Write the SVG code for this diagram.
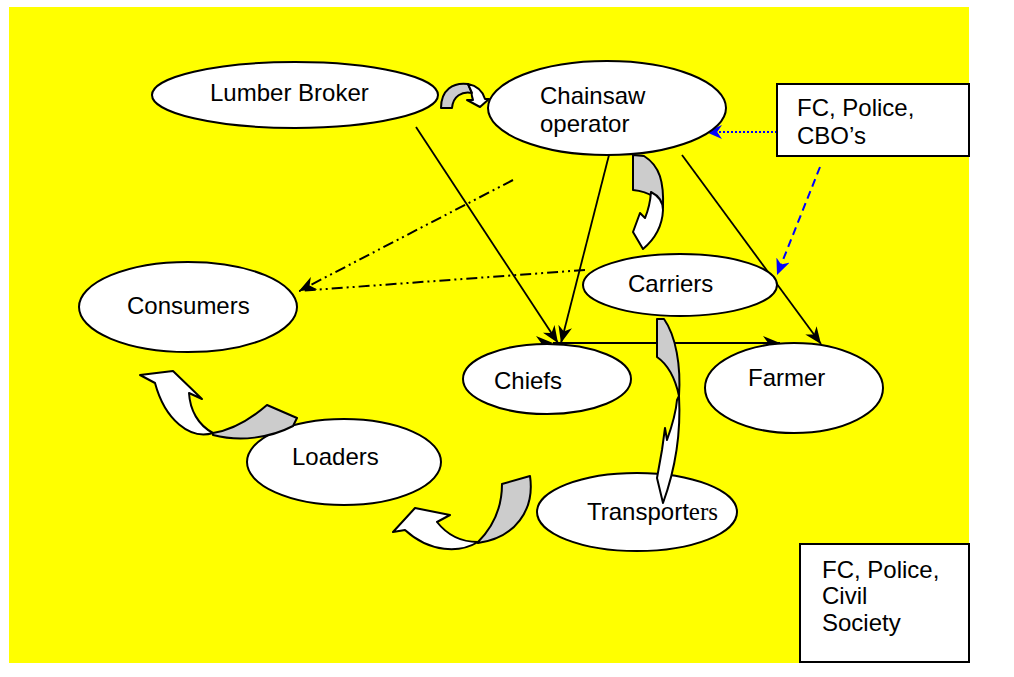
<svg xmlns="http://www.w3.org/2000/svg" width="1014" height="677" viewBox="0 0 1014 677">
<defs>
<style>
.node ellipse{fill:#fff;stroke:#000;stroke-width:2}
.box{fill:#fff;stroke:#000;stroke-width:2}
text{font-family:"Liberation Sans",Arial,sans-serif;font-size:24px;fill:#000}
.ln{stroke:#000;stroke-width:1.8;fill:none}
.dd{stroke:#000;stroke-width:2;fill:none;stroke-dasharray:11 4 2 4 2 4}
.bdot{stroke:#0000ff;stroke-width:2;fill:none;stroke-dasharray:2 2}
.bdash{stroke:#0000ff;stroke-width:2;fill:none;stroke-dasharray:8 5}
.g{fill:#cccccc;stroke:#000;stroke-width:2;stroke-linejoin:round}
.w{fill:#fff;stroke:#000;stroke-width:2;stroke-linejoin:round}
</style>
<marker id="ahb" viewBox="0 0 10 10" refX="10" refY="5" markerWidth="16" markerHeight="14" markerUnits="userSpaceOnUse" orient="auto" preserveAspectRatio="none">
<path d="M0,0 L10,5 L0,10 L3,5 Z" fill="#0000ff"/>
</marker>
<marker id="ahk" viewBox="0 0 10 10" refX="10" refY="5" markerWidth="17" markerHeight="14" markerUnits="userSpaceOnUse" orient="auto" preserveAspectRatio="none">
<path d="M0,0 L10,5 L0,10 L3,5 Z" fill="#000"/>
</marker>
</defs>
<rect x="9" y="7" width="960" height="656" fill="#ffff00"/>

<g id="connectors">
<line class="ln" x1="416" y1="127" x2="558" y2="343" marker-end="url(#ahk)"/>
<line class="ln" x1="609" y1="155" x2="561" y2="343" marker-end="url(#ahk)"/>
<line class="ln" x1="682" y1="155" x2="821" y2="344" marker-end="url(#ahk)"/>
<line class="ln" x1="553" y1="343" x2="780" y2="343" marker-start="url(#ahk)" marker-end="url(#ahk)"/>
<line class="dd" x1="513" y1="180" x2="299" y2="291" marker-end="url(#ahk)"/>
<line class="dd" x1="585" y1="270" x2="299" y2="291"/>
<line class="bdot" x1="777" y1="132" x2="706" y2="132" marker-end="url(#ahb)"/>
<line class="bdash" x1="820" y1="167" x2="777" y2="275" marker-end="url(#ahb)"/>
</g>

<g id="lumber-broker" class="node">
<ellipse cx="295" cy="95" rx="143" ry="33"/>
<text x="210" y="101">Lumber Broker</text>
</g>
<g id="chainsaw-operator" class="node">
<ellipse cx="607" cy="108" rx="119" ry="47"/>
<text x="540" y="104">Chainsaw</text>
<text x="540" y="132">operator</text>
</g>
<g id="consumers" class="node">
<ellipse cx="188" cy="307" rx="109" ry="45"/>
<text x="127" y="314">Consumers</text>
</g>
<g id="carriers" class="node">
<ellipse cx="680" cy="285" rx="97" ry="31"/>
<text x="628" y="292">Carriers</text>
</g>
<g id="chiefs" class="node">
<ellipse cx="547" cy="379" rx="84" ry="35"/>
<text x="494" y="389">Chiefs</text>
</g>
<g id="farmer" class="node">
<ellipse cx="794" cy="388" rx="89" ry="45"/>
<text x="748" y="386">Farmer</text>
</g>
<g id="loaders" class="node">
<ellipse cx="344" cy="462" rx="97" ry="43"/>
<text x="292" y="465">Loaders</text>
</g>
<g id="transporters" class="node">
<ellipse cx="637" cy="512" rx="100" ry="39"/>
<text x="587" y="520">Transport<tspan style="font-family:'Liberation Serif','Times New Roman',serif;font-size:25px">ers</tspan></text>
</g>

<g id="box-fc-police-cbos">
<rect class="box" x="777" y="84" width="192" height="72"/>
<text x="797" y="116">FC, Police,</text>
<text x="797" y="144">CBO’s</text>
</g>
<g id="box-fc-police-civil-society">
<rect class="box" x="800" y="544" width="169" height="118"/>
<text x="822" y="578">FC, Police,</text>
<text x="822" y="604">Civil</text>
<text x="822" y="631">Society</text>
</g>

<g id="curved-arrows">
<path class="g" d="M441,108 C441,90 453,82 468,84 L472,93 C462,91 453,96 452,108 Z"/>
<path class="w" d="M468,84 C478,86 483,92 485,99 L489,99 L480,107 L467,100 L473,100 C472,96 471,94 472,93 Z"/>

<path class="g" d="M633,155 L644,156 C660,166 664,182 663,208 C660,200 651,192 633,190 Z"/>
<path class="w" d="M651,192 Q663,198 663,210 Q662,233 643,249 L633,232 L640,213 L645,218 Q650,206 651,192 Z"/>

<path class="g" d="M657,319 L664,319 C676,336 681,366 679,396 C676,382 670,366 657,357 Z"/>
<path class="w" d="M679,396 C681,432 675,470 663,503 L657,478 L662,450 L665,428 L667,440 C672,426 676,412 677,400 Z"/>

<path class="w" d="M140,375 L173,371 L202,399 L189,393 C190,410 198,425 213,433 C190,440 165,420 155,383 Z"/>
<path class="g" d="M213,433 C232,430 252,418 267,405 L297,418 L293,426 C270,438 240,442 213,435 Z"/>

<path class="w" d="M393,532 L415,508 L450,515 L437,522 C448,536 462,542 478,542 C460,553 430,553 405,530 Z"/>
<path class="g" d="M478,542 C495,525 502,505 502,484 L530,476 C535,510 515,538 478,543 Z"/>
</g>
</svg>
